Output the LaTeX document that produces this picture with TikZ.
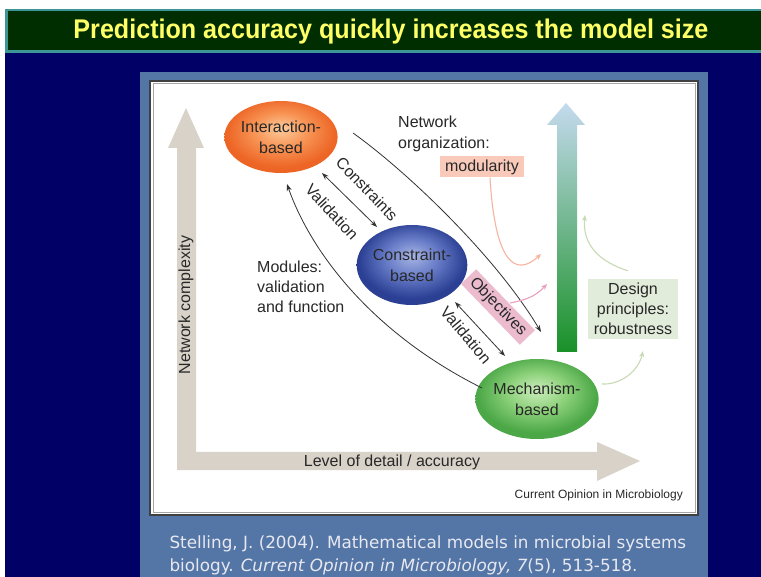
\documentclass[tikz,border=0pt]{standalone}
\usepackage{fontspec}
\setmainfont{Liberation Sans}
\newfontfamily\citefont{DejaVu Sans}
\usetikzlibrary{shapes.geometric,arrows.meta,calc}
\definecolor{navy}{RGB}{0,0,102}
\definecolor{titlegreen}{RGB}{0,46,0}
\definecolor{titleborder}{RGB}{60,150,150}
\definecolor{titleyellow}{RGB}{255,255,102}
\definecolor{panelblue}{RGB}{84,118,166}
\definecolor{axisgray}{RGB}{217,210,201}
\definecolor{labeltext}{RGB}{40,40,40}
\definecolor{modpink}{RGB}{249,202,186}
\definecolor{objpink}{RGB}{236,188,206}
\definecolor{designgreen}{RGB}{226,236,218}
\definecolor{salmonline}{RGB}{246,180,160}
\definecolor{pinkline}{RGB}{232,160,190}
\definecolor{lgreenline}{RGB}{200,218,180}
\definecolor{citewhite}{RGB}{232,232,240}
\definecolor{arrowtop}{RGB}{196,218,238}
\definecolor{arrowmid}{RGB}{100,185,110}
\definecolor{arrowbot}{RGB}{25,145,40}
\pgfdeclareradialshading{orangeball}{\pgfpoint{0bp}{6bp}}{rgb(0bp)=(0.99,0.80,0.62); rgb(12bp)=(0.97,0.58,0.33); rgb(24bp)=(0.93,0.40,0.15); rgb(50bp)=(0.90,0.35,0.10)}
\pgfdeclareradialshading{blueball}{\pgfpoint{0bp}{6bp}}{rgb(0bp)=(0.66,0.71,0.89); rgb(12bp)=(0.40,0.48,0.78); rgb(24bp)=(0.17,0.25,0.58); rgb(50bp)=(0.15,0.22,0.55)}
\pgfdeclareradialshading{greenball}{\pgfpoint{0bp}{6bp}}{rgb(0bp)=(0.80,0.93,0.74); rgb(12bp)=(0.55,0.82,0.48); rgb(24bp)=(0.30,0.66,0.28); rgb(50bp)=(0.25,0.60,0.25)}
\tikzset{
  lbl/.style={font=\fontsize{16}{20}\selectfont, text=labeltext, inner sep=1pt},
  oval/.style={ellipse, inner sep=0pt, align=center, font=\fontsize{16}{21}\selectfont, text=labeltext},
  conn/.style={draw=black!80, line width=0.8pt, -{Stealth[length=7pt,width=5pt]}},
  dconn/.style={draw=black!80, line width=0.8pt, {Stealth[length=7pt,width=5pt]}-{Stealth[length=7pt,width=5pt]}},
  softconn/.style={line width=1.1pt, -{Stealth[length=6pt,width=5pt]}},
  tag/.style={lbl, inner xsep=5pt, minimum height=21pt}
}
\begin{document}
\begin{tikzpicture}[x=1pt,y=-1pt]
\useasboundingbox (0,0) rectangle (761,577);
\fill[white] (0,0) rectangle (761,577);
\fill[navy] (5,52) rectangle (761,577);
% title bar
\draw[titleborder, line width=2.5pt, fill=titlegreen] (6.25,10) rectangle (765,51.5);
\node[font=\bfseries\fontsize{27}{30}\selectfont, text=titleyellow] (title) at (391,32) {\scalebox{0.93}[1]{Prediction accuracy quickly increases the model size}};
% panel
\fill[panelblue] (140,72) rectangle (708,577);
\draw[fill=white, draw=black!75, line width=1.2pt] (150,81) rectangle (698,515);
\draw[black!35, line width=0.6pt] (152.8,83.8) rectangle (695.2,512.2);
% axes
\fill[axisgray] (186,108) -- (204,148) -- (196,148) -- (196,452) -- (597,452) -- (597,442) -- (640,461) -- (597,481) -- (597,470) -- (177,470) -- (177,148) -- (168,148) -- cycle;
\node[lbl, rotate=90] (ylab) at (186,305) {Network complexity};
\node[lbl] (xlab) at (392,462) {Level of detail / accuracy};
% gradient arrow
\shade[top color=arrowtop, middle color=arrowmid, bottom color=arrowbot] (566,103) -- (585,125) -- (577,125) -- (577,352) -- (557,352) -- (557,125) -- (547,125) -- cycle;
% ellipses
\node[oval, shading=orangeball, minimum width=104pt, minimum height=72pt] (inter) at (281,137) {Interaction-\\based};
\node[oval, shading=blueball, minimum width=110pt, minimum height=80pt] (cons) at (412,265) {Constraint-\\based};
\node[oval, shading=greenball, minimum width=108pt, minimum height=80pt] (mech) at (537,399) {Mechanism-\\based};
% boxes
\node[tag, fill=modpink] (modbox) at (482,167) {modularity};
\node[tag, fill=objpink, rotate=-46] (objbox) at (498,307) {Objectives};
\node[lbl, fill=designgreen, align=center, minimum width=90pt, minimum height=60pt, font=\fontsize{16}{20}\selectfont] (design) at (633,309) {Design\\principles:\\robustness};
% text labels
\node[lbl, anchor=west, align=left, font=\fontsize{16}{21}\selectfont] (netorg) at (397,134) {Network\\organization:};
\node[lbl, anchor=west, align=left] (modules) at (256,287) {Modules:\\validation\\and function};
\node[lbl, rotate=-46] (constr) at (367,189) {Constraints};
\node[lbl, rotate=-47] (valup) at (332,212) {Validation};
\node[lbl, rotate=-50] (vallow) at (466,335) {Validation};
\node[lbl, anchor=east, font=\fontsize{12}{14}\selectfont] (source) at (684,495) {Current Opinion in Microbiology};
% connectors
\draw[dconn] ($(inter.center)+(41,36)$) -- ($(cons.center)+(-35,-38)$);
\draw[dconn] ($(cons.center)+(43,37)$) -- ($(mech.center)+(-32,-43)$);
\draw[conn] ($(mech.center)+(-55,-11)$) .. controls (370,332) and (310,250) .. ($(inter.center)+(6,47)$);
\coordinate (netstart) at (353,133);
\draw[conn] (netstart) .. controls (405,170) and (495,255) .. ($(mech.center)+(4,-67)$);
\coordinate (modend) at (541,254);
\draw[softconn, salmonline] ($(modbox.south)+(8,0)$) .. controls (495,262) and (515,278) .. (modend);
\coordinate (objend) at (547,284);
\draw[softconn, pinkline] ($(objbox.center)+(12,-4)$) .. controls (525,300) and (535,297) .. (objend);
\coordinate (desend) at (585,215);
\draw[softconn, lgreenline] ($(design.north)+(-5,-8)$) .. controls (600,262) and (582,245) .. (desend);
\draw[softconn, lgreenline] ($(mech.east)+(3,-15)$) .. controls (620,385) and (638,372) .. ($(design.south)+(10,12)$);
% citation
\node[anchor=west, align=left, font=\citefont\fontsize{16.8}{23}\selectfont, text=citewhite] (cite) at (166,555) {Stelling, J. (2004). Mathematical models in microbial systems\\biology. \textit{Current Opinion in Microbiology, 7}(5), 513-518.};
\end{tikzpicture}
\end{document}
